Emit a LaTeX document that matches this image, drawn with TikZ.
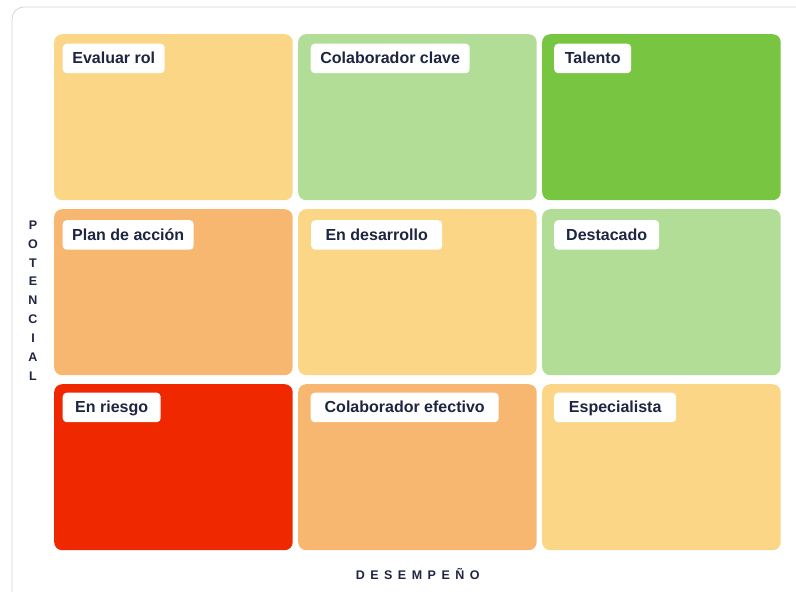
\documentclass[tikz,border=0pt]{standalone}
\usepackage{fontspec}
\setmainfont{Liberation Sans}
\usetikzlibrary{positioning}

\definecolor{ink}{RGB}{29,37,64}
\definecolor{rim}{RGB}{212,212,212}
\definecolor{sand}{RGB}{252,214,135}
\definecolor{mint}{RGB}{177,221,150}
\definecolor{leaf}{RGB}{120,197,66}
\definecolor{peach}{RGB}{248,183,113}
\definecolor{alarm}{RGB}{240,40,0}

\begin{document}
\begin{tikzpicture}[
  x=1pt, y=-1pt,
  cell/.style={rounded corners=8pt, anchor=north west, inner sep=0pt,
    minimum width=238.5pt, minimum height=166pt},
  tag/.style={fill=white, rounded corners=4pt, text=ink,
    font=\fontsize{16}{16}\selectfont\bfseries,
    inner xsep=8pt, inner ysep=6.75pt, text height=13.5pt, text depth=2.5pt},
  axis/.style={text=ink, font=\fontsize{12.5}{18.85}\selectfont\bfseries, align=center},
]
\path[use as bounding box] (0,0) rectangle (796,592);
\clip (0,0) rectangle (796,592);
% ---- outer frame (runs off the page) ----
\draw[rim, line width=0.8pt, rounded corners=12pt] (12,640) |- (840,7);
% ---- the 3x3 grid ----
\foreach \r/\c/\hue/\txt/\dx/\dy/\boxw in {
    1/1/sand/Evaluar rol/8.5/9.5/102,
    1/2/mint/Colaborador clave/12.5/9.5/159,
    1/3/leaf/Talento/12/9.5/77,
    2/1/peach/Plan de acción/8.5/11/131,
    2/2/sand/En desarrollo/13/11/131,
    2/3/mint/Destacado/12/11/105,
    3/1/alarm/En riesgo/8.5/8.5/98,
    3/2/peach/Colaborador efectivo/12.5/8.5/188,
    3/3/sand/Especialista/12/8.5/122}{
  \node[cell, fill=\hue] (cell-\r-\c) at ({54+(\c-1)*244},{34+(\r-1)*175}) {};
  \node[tag, minimum width=\boxw pt, below right=\dy pt and \dx pt of cell-\r-\c.north west]
    (tag-\r-\c) {\txt};
}
% ---- axes ----
\node[axis] (pot) at (33,300.4) {P\\O\\T\\E\\N\\C\\I\\A\\L};
\node[axis] (des) at (417.7,573.5)
  {D\kern5.5pt E\kern5.5pt S\kern5.5pt E\kern5.5pt M\kern5.5pt P\kern5.5pt E\kern5.5pt Ñ\kern5.5pt O};
\end{tikzpicture}
\end{document}
